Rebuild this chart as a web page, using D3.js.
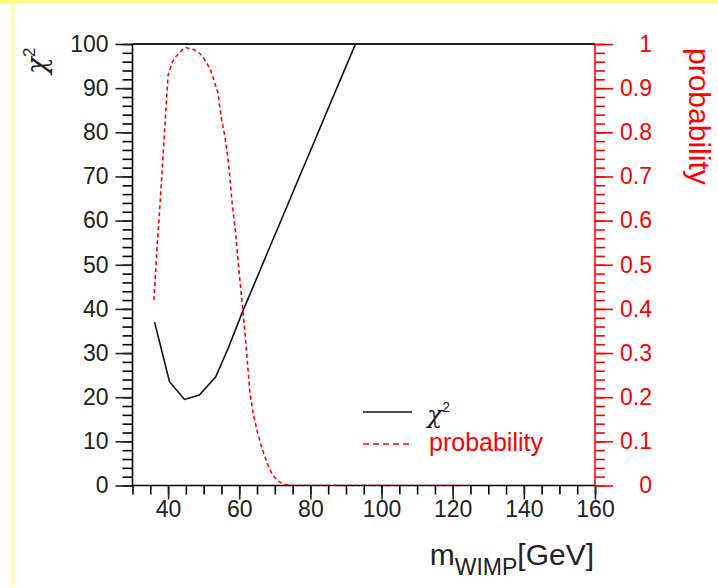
<!DOCTYPE html>
<html>
<head>
<meta charset="utf-8">
<script src="https://cdn.jsdelivr.net/npm/d3@7"></script>
<style>
  body { margin: 0; background: #fff; }
  text { font-family: "Liberation Sans", Arial, sans-serif; }
  .greek { font-family: "DejaVu Serif", serif; font-style: italic; }
</style>
</head>
<body>
<div id="chart"></div>
<script>
// chi2 curve (mass in GeV, chi2)
var chiMass   = [36.2, 40.4, 44.6, 48.8, 53.4, 57, 61, 65, 69, 73, 77, 81, 85, 89, 93, 97]
var chiValues = [37, 23.5, 19.5, 20.5, 24.6, 31.3, 39.5, 47.1, 54.8, 62.4, 70.1, 77.7, 85.4, 93, 100.6, 108.3]

// probability curve
var probMass   = [36, 37, 38, 39, 40, 41, 42, 43, 44, 45, 46, 47, 48, 49, 50, 51, 52, 53, 54, 55,
                  56, 57, 58, 59, 60, 61, 62, 63, 64, 65, 66, 67, 68, 69, 70, 71, 72, 73, 74, 75,
                  80, 85, 90, 95, 100, 105, 110, 115, 120, 125]
var probValues = [0.42, 0.55, 0.67, 0.80, 0.93, 0.955, 0.97, 0.978, 0.987, 0.992, 0.99, 0.988, 0.984, 0.978, 0.968, 0.955, 0.94, 0.915, 0.89, 0.83,
                  0.79, 0.73, 0.64, 0.57, 0.48, 0.40, 0.31, 0.21, 0.16, 0.125, 0.095, 0.07, 0.048, 0.03, 0.018, 0.01, 0.005, 0.002, 0.001, 0,
                  0, 0, 0, 0, 0, 0, 0, 0, 0, 0]

// tick labels
var xTicks     = [40, 60, 80, 100, 120, 140, 160]
var chiTicks   = [0, 10, 20, 30, 40, 50, 60, 70, 80, 90, 100]
var probTicks  = [0, 0.1, 0.2, 0.3, 0.4, 0.5, 0.6, 0.7, 0.8, 0.9, 1]

var width = 718,
    height = 588,
    pLeft = 132.5, pRight = 595, pTop = 44, pBottom = 485.5

var svg = d3.select("#chart")
  .append("svg")
    .attr("width", width)
    .attr("height", height)

// the yellow frame bits of the original page
svg.append("rect").attr("x", 0).attr("y", 0).attr("width", width).attr("height", 4).attr("fill", "#fffb80")
svg.append("line").attr("x1", 12.5).attr("x2", 12.5).attr("y1", 4).attr("y2", 585)
  .attr("stroke", "#ffff70").attr("stroke-width", 1.2)

var x = d3.scaleLinear().domain([30, 160]).range([pLeft, pRight])
var yChi = d3.scaleLinear().domain([0, 100]).range([pBottom, pTop])
var yProb = d3.scaleLinear().domain([0, 1]).range([pBottom, pTop])

// axes: ticks outside, minor ticks done as a second axis without labels
function styleAxis(g, color, size) {
  g.select(".domain").remove()
  g.selectAll("line").attr("stroke", color).attr("stroke-width", 1.6)
  g.selectAll("text").attr("fill", color).style("font-size", size + "px")
}

// bottom
svg.append("g")
  .attr("transform", "translate(0," + pBottom + ")")
  .call(d3.axisBottom(x).tickValues(d3.range(30, 161, 5)).tickSize(9).tickFormat(""))
  .call(styleAxis, "#000", 23)
svg.append("g")
  .attr("transform", "translate(0," + pBottom + ")")
  .call(d3.axisBottom(x).tickValues(xTicks).tickSize(14).tickPadding(1))
  .call(styleAxis, "#222", 23)

// left
svg.append("g")
  .attr("transform", "translate(" + pLeft + ",0)")
  .call(d3.axisLeft(yChi).tickValues(d3.range(0, 101, 2)).tickSize(10).tickFormat(""))
  .call(styleAxis, "#000", 23)
svg.append("g")
  .attr("transform", "translate(" + pLeft + ",0)")
  .call(d3.axisLeft(yChi).tickValues(chiTicks).tickSize(17).tickPadding(7))
  .call(styleAxis, "#222", 23)

// right (red)
svg.append("g")
  .attr("transform", "translate(" + pRight + ",0)")
  .call(d3.axisRight(yProb).tickValues(d3.range(0, 51).map(function(i) { return i / 50 })).tickSize(10).tickFormat(""))
  .call(styleAxis, "#ff0000", 23)
svg.append("g")
  .attr("class", "probAxis")
  .attr("transform", "translate(" + pRight + ",0)")
  .call(d3.axisRight(yProb).tickValues(probTicks).tickSize(18).tickFormat(d3.format("")))
  .call(styleAxis, "#ff0000", 23)
svg.selectAll(".probAxis text").attr("text-anchor", "end").attr("x", 57)

// frame lines
svg.append("line").attr("x1", pLeft).attr("x2", pRight).attr("y1", pTop).attr("y2", pTop)
  .attr("stroke", "#222").attr("stroke-width", 2.2)
svg.append("line").attr("x1", pLeft).attr("x2", pLeft).attr("y1", pTop).attr("y2", pBottom)
  .attr("stroke", "#000").attr("stroke-width", 1.6)
svg.append("line").attr("x1", pLeft).attr("x2", pRight).attr("y1", pBottom).attr("y2", pBottom)
  .attr("stroke", "#000").attr("stroke-width", 1.6)
svg.append("line").attr("x1", pRight).attr("x2", pRight).attr("y1", pTop).attr("y2", pBottom)
  .attr("stroke", "#ff0000").attr("stroke-width", 1.6)

svg.append("clipPath").attr("id", "plotClip")
  .append("rect").attr("x", pLeft).attr("y", pTop).attr("width", pRight - pLeft).attr("height", pBottom - pTop)

// curves
var chiLine = d3.line()
  .x(function(d, i) { return x(chiMass[i]) })
  .y(function(d) { return yChi(d) })
var probLine = d3.line()
  .x(function(d, i) { return x(probMass[i]) })
  .y(function(d) { return yProb(d) })

svg.append("path")
  .attr("clip-path", "url(#plotClip)")
  .attr("d", chiLine(chiValues))
  .attr("fill", "none")
  .attr("stroke", "#111")
  .attr("stroke-width", 1.6)

svg.append("path")
  .attr("clip-path", "url(#plotClip)")
  .attr("d", probLine(probValues))
  .attr("fill", "none")
  .attr("stroke", "#ff0000")
  .attr("stroke-width", 1.6)
  .attr("stroke-dasharray", "4,3")

// axis titles
svg.append("text")
  .attr("transform", "translate(46,74) rotate(-90)")
  .style("font-size", "28px")
  .attr("fill", "#222")
  .html("<tspan class='greek'>χ</tspan><tspan dy='-11' style='font-size:17px'>2</tspan>")

svg.append("text")
  .attr("transform", "translate(689,48) rotate(90)")
  .style("font-size", "30px")
  .attr("fill", "#ff0000")
  .text("probability")

svg.append("text")
  .attr("x", 594)
  .attr("y", 565)
  .attr("text-anchor", "end")
  .style("font-size", "30px")
  .attr("fill", "#222")
  .html("m<tspan dy='10' style='font-size:23px'>WIMP</tspan><tspan dy='-10'>[GeV]</tspan>")

// legend
svg.append("line").attr("x1", 363).attr("x2", 412).attr("y1", 412).attr("y2", 412)
  .attr("stroke", "#111").attr("stroke-width", 1.6)
svg.append("text").attr("x", 427).attr("y", 423)
  .style("font-size", "25px").attr("fill", "#222")
  .html("<tspan class='greek'>χ</tspan><tspan dy='-11' style='font-size:14px'>2</tspan>")
svg.append("line").attr("x1", 363).attr("x2", 411).attr("y1", 444).attr("y2", 444)
  .attr("stroke", "#ff0000").attr("stroke-width", 1.6).attr("stroke-dasharray", "6,4")
svg.append("text").attr("x", 429).attr("y", 451)
  .style("font-size", "25px").attr("fill", "#ff0000")
  .text("probability")
</script>
</body>
</html>
